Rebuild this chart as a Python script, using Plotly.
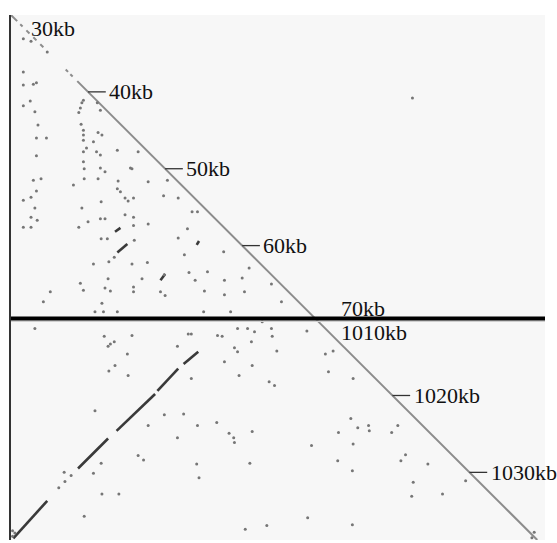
import plotly.graph_objects as go

# ---------------- data (genomic positions in kb) ----------------
SEG_A = (30.0, 69.5)      # first sequence block
SEG_B = (1010.0, 1038.8)  # second sequence block

tick_kb = [40, 50, 60, 1020, 1030]
tick_labels = ["40kb", "50kb", "60kb", "1020kb", "1030kb"]

# self-match diagonal pieces
diag_start = [30.0, 31.2, 32.0, 32.9, 33.8, 37.1, 37.7, 38.6, 1010.0]
diag_end   = [30.8, 31.5, 32.4, 33.3, 34.2, 37.4, 38.0, 69.5, 1038.8]

# inverted repeat (first block vs second block)
inv_x0 = [30.3, 38.7, 43.7, 49.0, 52.4]
inv_y0 = [1038.6, 1029.5, 1024.6, 1019.4, 1015.9]
inv_x1 = [34.7, 42.6, 48.7, 51.7, 54.3]
inv_y1 = [1033.7, 1025.6, 1019.8, 1016.5, 1014.3]

# short strong matches
seg_x0 = [43.5, 43.8, 49.4, 54.1]
seg_y0 = [58.2, 60.9, 64.5, 59.9]
seg_x1 = [44.2, 45.1, 50.0, 54.4]
seg_y1 = [57.7, 59.8, 63.7, 59.4]

# scattered dot matches
dot_x = [31.6, 32.6, 34.7, 31.6, 32.9, 33.3, 31.6, 31.6, 32.5, 33.1, 33.5, 33.3, 34.6, 33.3,
         39.4, 39.2, 39.0, 38.8, 39.1, 39.4, 39.4, 39.4, 39.8, 39.4, 39.4, 39.5,
         40.7, 41.3, 41.8, 41.1, 41.6, 41.2, 41.6, 43.8, 46.5, 41.6, 45.5, 45.7,
         39.5, 41.3, 42.2, 43.9, 38.1, 33.9, 32.9, 33.3, 32.6, 31.6, 43.8, 44.2,
         44.8, 45.2, 45.9, 49.8, 47.8, 50.3, 41.7, 39.2, 33.1, 32.6, 33.4, 31.6,
         32.6, 38.8, 40.0, 41.6, 42.2, 44.8, 45.9, 47.8, 45.9, 41.7, 42.5, 46.0,
         43.4, 42.7, 40.7, 45.7, 47.7, 42.6, 47.0, 39.0, 39.4, 42.2, 42.9, 45.9,
         45.9, 49.4, 35.1, 34.2, 41.8, 40.9, 42.0, 43.8, 50.0, 51.7, 53.5, 54.2,
         52.9, 51.7, 57.6, 52.5, 49.9, 53.1, 53.9, 55.5, 57.7, 60.0, 60.9, 63.8,
         55.1, 57.7, 60.3, 55.0, 58.5, 65.1, 1022.6,
         33.1, 42.6, 42.9, 43.4, 45.7, 45.1, 45.2, 42.7, 43.5, 42.1, 51.6, 53.0,
         40.9, 49.9, 52.4, 47.8, 51.6, 46.5, 47.2, 41.7, 36.9, 40.7, 41.8, 44.0,
         39.5, 36.2, 37.0, 37.8,
         53.4, 56.8, 57.4, 59.4, 60.7, 61.6, 62.6, 63.8, 63.9, 61.2, 59.0, 59.4,
         64.5, 68.4, 57.7, 61.3, 59.6, 53.4, 63.5, 64.2, 1011.7, 1012.3, 1011.3,
         1014.9, 54.2, 56.7, 58.3, 58.9, 59.0, 61.3, 1014.6, 1015.5, 1013.0, 69.0,
         1014.9, 1012.9, 1014.8, 61.0, 54.1, 54.4, 68.5, 1014.8, 63.2, 60.4,
         1016.9, 1017.0, 1019.9, 1020.7, 1021.7, 1021.1, 1024.6, 1022.7, 1022.5,
         1026.5, 1029.5, 30.2, 30.5, 30.2, 1038.4, 1038.1]
dot_y = [33.1, 33.4, 34.8, 37.4, 39.0, 38.8, 39.1, 41.8, 41.2, 42.6, 44.3, 46.0, 46.0, 48.3,
         41.1, 41.4, 42.1, 42.7, 44.2, 45.0, 45.6, 46.3, 47.3, 47.8, 49.1, 50.0,
         46.5, 45.3, 45.6, 47.8, 48.2, 41.4, 42.4, 47.6, 47.8, 49.9, 49.9, 50.0,
         51.3, 51.3, 50.4, 51.6, 52.1, 51.3, 51.5, 52.9, 53.7, 54.1, 52.6, 53.0,
         53.8, 54.2, 53.8, 53.5, 51.7, 51.5, 54.3, 55.1, 55.1, 56.3, 56.7, 57.6,
         57.6, 57.6, 56.9, 56.5, 56.5, 56.0, 56.3, 57.2, 57.4, 59.1, 59.1, 59.3,
         61.5, 62.1, 62.4, 62.4, 62.2, 64.3, 64.3, 64.9, 65.8, 65.5, 65.9, 65.4,
         66.0, 66.0, 66.0, 67.3, 67.5, 68.6, 68.6, 68.6, 66.5, 53.8, 55.6, 55.6,
         57.8, 59.0, 60.8, 61.2, 63.8, 63.5, 64.5, 63.4, 64.5, 64.2, 62.9, 65.0,
         65.9, 66.4, 66.0, 68.6, 68.6, 67.3, 40.8,
         1011.3, 1013.6, 1013.3, 1013.0, 1012.2, 1014.6, 1017.4, 1016.8, 1016.1,
         1012.3, 1013.6, 1012.0, 1022.0, 1022.5, 1022.4, 1023.9, 1025.5, 1027.8,
         1028.4, 1028.8, 1030.0, 1030.1, 1032.8, 1032.8, 1035.7, 1032.0, 1031.2,
         1030.4,
         1012.0, 1012.2, 1012.3, 1011.3, 1011.3, 1011.7, 1010.4, 1011.3, 1012.3,
         1013.0, 1013.8, 1014.3, 1014.2, 1011.6, 1015.6, 1016.1, 1017.4, 1017.8,
         1018.2, 1018.7, 1016.9, 1014.2, 1014.6, 1017.8, 1023.9, 1023.5, 1024.9,
         1025.5, 1026.1, 1024.7, 1023.0, 1024.2, 1024.8, 1026.5, 1026.3, 1028.5,
         1029.8, 1028.8, 1028.9, 1030.7, 1035.9, 1036.8, 1036.9, 1037.4,
         1023.9, 1024.6, 1024.8, 1023.9, 1027.7, 1028.5, 1028.9, 1031.3, 1033.1,
         1032.8, 1031.1, 1038.3, 1037.9, 1037.6, 1037.8, 1038.5]

# ---------------- helpers ----------------
LEN_A = SEG_A[1] - SEG_A[0]
TOTAL = LEN_A + (SEG_B[1] - SEG_B[0])


def pos(kb):
    """map genomic kb to position along the concatenated sequence"""
    if kb < 500:
        return kb - SEG_A[0]
    return kb - SEG_B[0] + LEN_A


def seg_path(x0, y0, x1, y1):
    xs, ys = [], []
    for a, b, c, d in zip(x0, y0, x1, y1):
        xs += [pos(a), pos(c), None]
        ys += [pos(b), pos(d), None]
    return xs, ys


fig = go.Figure()

# diagonal
dx, dy = seg_path(diag_start, diag_start, diag_end, diag_end)
fig.add_trace(go.Scatter(x=dx, y=dy, mode="lines",
                         line=dict(color="#8c8c8c", width=2), hoverinfo="skip"))

# inverted repeat
ix, iy = seg_path(inv_x0, inv_y0, inv_x1, inv_y1)
fig.add_trace(go.Scatter(x=ix, y=iy, mode="lines",
                         line=dict(color="#3a3a3a", width=2.6), hoverinfo="skip"))

# short strong segments
sx, sy = seg_path(seg_x0, seg_y0, seg_x1, seg_y1)
fig.add_trace(go.Scatter(x=sx, y=sy, mode="lines",
                         line=dict(color="#3a3a3a", width=2.6), hoverinfo="skip"))

# dots
fig.add_trace(go.Scatter(x=[pos(v) for v in dot_x], y=[pos(v) for v in dot_y],
                         mode="markers",
                         marker=dict(color="#767676", size=3, line=dict(width=0)),
                         hoverinfo="skip"))

# tick dashes
tx, ty = [], []
for k in tick_kb:
    p = pos(k)
    tx += [p, p + 2.3, None]
    ty += [p, p, None]
fig.add_trace(go.Scatter(x=tx, y=ty, mode="lines",
                         line=dict(color="#333333", width=1.3), hoverinfo="skip"))

font = dict(family="Liberation Serif", size=22, color="#111111")
for k, lab in zip(tick_kb, tick_labels):
    p = pos(k)
    fig.add_annotation(x=p + 2.5, y=p, text=lab, showarrow=False,
                       xanchor="left", yanchor="middle", font=font)

# start / boundary labels
fig.add_annotation(x=pos(SEG_A[0]) + 2.3, y=pos(SEG_A[0]) + 1.7, text="30kb",
                   showarrow=False, xanchor="left", yanchor="middle", font=font)
fig.add_annotation(x=LEN_A + 3.1, y=LEN_A - 1.3, text="70kb",
                   showarrow=False, xanchor="left", yanchor="middle", font=font)
fig.add_annotation(x=LEN_A + 3.1, y=LEN_A + 1.8, text="1010kb",
                   showarrow=False, xanchor="left", yanchor="middle", font=font)

# separator between the two sequence blocks (with faint shadow below)
fig.add_shape(type="line", xref="paper", x0=0, x1=1, yref="y",
              y0=LEN_A + 0.35, y1=LEN_A + 0.35, line=dict(color="#d0d0d0", width=1.5))
fig.add_shape(type="line", xref="paper", x0=0, x1=1, yref="y", y0=LEN_A, y1=LEN_A,
              line=dict(color="#000000", width=4))

fig.update_layout(
    width=557, height=543,
    margin=dict(l=11, r=12, t=15, b=3),
    paper_bgcolor="white", plot_bgcolor="#f7f7f7",
    showlegend=False, hovermode=False,
    xaxis=dict(range=[0, TOTAL + 1.0], visible=False, showgrid=False, zeroline=False),
    yaxis=dict(range=[TOTAL, 0], showgrid=False, zeroline=False, showticklabels=False,
               ticks="", showline=True, linecolor="#333333", linewidth=2),
)

fig.write_html("out.html", config={"displayModeBar": False},
               post_script="document.body.style.margin='0px';document.body.style.overflow='hidden';")
